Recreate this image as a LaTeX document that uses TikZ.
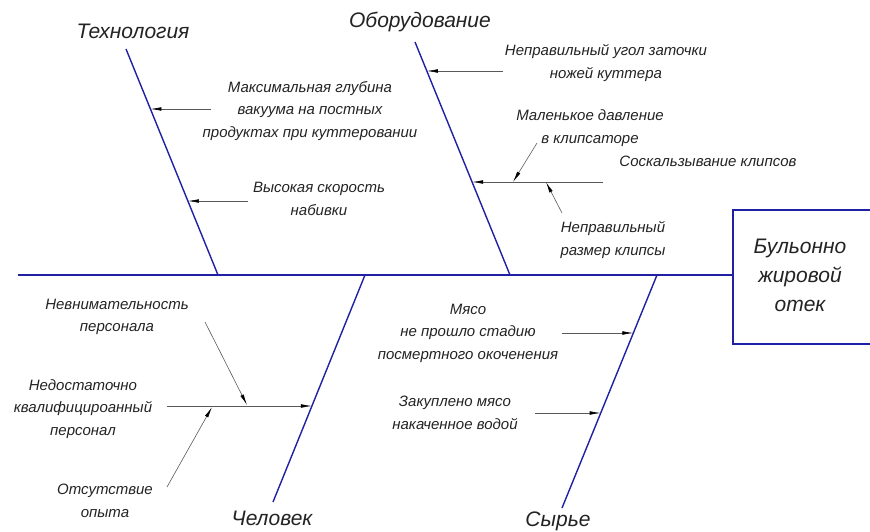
\documentclass[tikz,border=0pt]{standalone}
\usepackage{fontspec}
\setmainfont{Liberation Sans}
\usetikzlibrary{arrows.meta}
\definecolor{bonecol}{RGB}{32,32,165}
\definecolor{inkcol}{RGB}{35,35,35}
\begin{document}
\begin{tikzpicture}[x=1pt,y=-1pt,
  bone/.style={draw=bonecol,line width=1.4pt},
  cause/.style={draw=black!65,line width=0.6pt,
    -{Latex[length=11pt,width=3.6pt,color=black,fill=black]}},
  head/.style={font=\fontsize{21}{29}\selectfont\itshape,text=inkcol,inner sep=0pt},
  note/.style={font=\fontsize{15}{22.5}\selectfont\itshape,text=inkcol,align=center,inner sep=0pt}]
\useasboundingbox (0,0) rectangle (870,532);

% spine and effect box
\coordinate (s0) at (18,275);
\coordinate (s1) at (733,275);
\draw[bone] (s0) -- (s1);
\draw[bone] (872,210) -- (733,210) -- (733,344) -- (872,344);
\node[head,align=center] (effect) at (800,275) {Бульонно\\жировой\\отек};

% main bones
\coordinate (t1) at (126,49);  \coordinate (t2) at (218,275);
\coordinate (e1) at (415,42);  \coordinate (e2) at (510,275);
\coordinate (h1) at (365,275); \coordinate (h2) at (273,502);
\coordinate (r1) at (657,275); \coordinate (r2) at (562,508);
\draw[bone] (t1) -- (t2);
\draw[bone] (e1) -- (e2);
\draw[bone] (h1) -- (h2);
\draw[bone] (r1) -- (r2);

% category labels
\node[head] (tech) at (133,31) {Технология};
\node[head] (equip) at (420,22) {Оборудование};
\node[head] (human) at (272,518) {Человек};
\node[head] (raw) at (558,521) {Сырье};

% Технология
\node[note] (c1) at (310,111) {Максимальная глубина\\вакуума на постных\\продуктах при куттеровании};
\node[note] (c2) at (319,199) {Высокая скорость\\набивки};
\coordinate (a1s) at (211,109); \coordinate (a1e) at (150.4,109);
\coordinate (a2s) at (248,201); \coordinate (a2e) at (187.9,201);
\draw[cause] (a1s) -- (a1e);
\draw[cause] (a2s) -- (a2e);

% Оборудование
\node[note] (c3) at (606,63) {Неправильный угол заточки\\ножей куттера};
\node[note] (c4) at (590,128) {Маленькое давление\\в клипсаторе};
\node[note] (c5) at (708,161) {Соскальзывание клипсов};
\node[note] (c6) at (613,240) {Неправильный\\размер клипсы};
\coordinate (a3s) at (503,71);  \coordinate (a3e) at (426.8,71);
\coordinate (a4s) at (603,182); \coordinate (a4e) at (472.1,182);
\coordinate (a5s) at (537,143); \coordinate (a5e) at (513,182);
\coordinate (a6s) at (562,213); \coordinate (a6e) at (546,182);
\draw[cause] (a3s) -- (a3e);
\draw[cause] (a4s) -- (a4e);
\draw[cause] (a5s) -- (a5e);
\draw[cause] (a6s) -- (a6e);

% Человек
\node[note] (c7) at (117,317) {Невнимательность\\персонала};
\node[note] (c8) at (83,409) {Недостаточно\\квалифицироанный\\персонал};
\node[note] (c9) at (105,501) {Отсутствие\\опыта};
\coordinate (a7s) at (167,406); \coordinate (a7e) at (311.9,406);
\coordinate (a8s) at (205,322); \coordinate (a8e) at (247,405);
\coordinate (a9s) at (167,487); \coordinate (a9e) at (212,407);
\draw[cause] (a7s) -- (a7e);
\draw[cause] (a8s) -- (a8e);
\draw[cause] (a9s) -- (a9e);

% Сырье
\node[note] (c10) at (468,333) {Мясо\\не прошло стадию\\посмертного окоченения};
\node[note] (c11) at (455,413) {Закуплено мясо\\накаченное водой};
\coordinate (a10s) at (562,333); \coordinate (a10e) at (633.4,333);
\coordinate (a11s) at (535,413); \coordinate (a11e) at (600.7,413);
\draw[cause] (a10s) -- (a10e);
\draw[cause] (a11s) -- (a11e);
\end{tikzpicture}
\end{document}
